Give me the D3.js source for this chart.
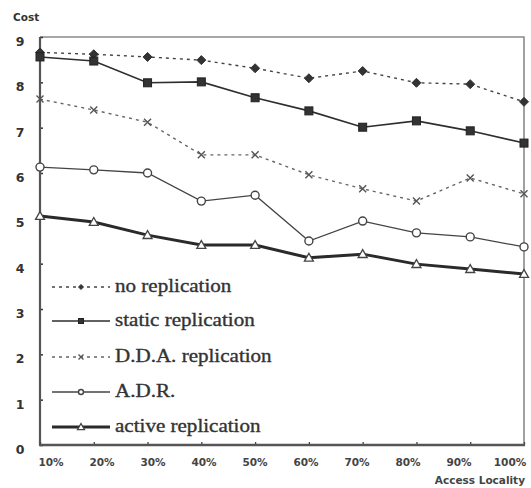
<!DOCTYPE html>
<html><head><meta charset="utf-8">
<script src="https://cdn.jsdelivr.net/npm/d3@7"></script>
<style>body{margin:0;background:#fff}svg{display:block}</style>
</head><body>
<svg id="c" width="531" height="488"></svg>
<script>
const categories = ["10%","20%","30%","40%","50%","60%","70%","80%","90%","100%"];
const yTicks = [0,1,2,3,4,5,6,7,8,9];
const noReplication     = [8.66,8.62,8.56,8.49,8.31,8.09,8.25,7.99,7.96,7.57];
const staticReplication = [8.56,8.47,7.99,8.01,7.66,7.37,7.01,7.15,6.93,6.66];
const ddaReplication    = [7.63,7.39,7.12,6.40,6.40,5.96,5.65,5.38,5.89,5.54];
const adr               = [6.13,6.07,6.00,5.38,5.51,4.50,4.94,4.68,4.59,4.37];
const activeReplication = [5.05,4.92,4.63,4.41,4.41,4.13,4.21,3.99,3.88,3.77];
const seriesNames = ["no replication","static replication","D.D.A. replication","A.D.R.","active replication"];

const series = [
  {name:seriesNames[0], values:noReplication, stroke:"#444", width:1.4, dash:"3,4", marker:"diamond"},
  {name:seriesNames[1], values:staticReplication, stroke:"#2e2e2e", width:1.6, dash:null, marker:"square"},
  {name:seriesNames[2], values:ddaReplication, stroke:"#666", width:1.4, dash:"3,4", marker:"cross"},
  {name:seriesNames[3], values:adr, stroke:"#444", width:1.3, dash:null, marker:"circle"},
  {name:seriesNames[4], values:activeReplication, stroke:"#2a2a2a", width:3, dash:null, marker:"triangle"}
];

const svg = d3.select("#c");
const L=40, R=524, T=37, B=445;
const x = d3.scalePoint().domain(categories).range([L,R]);
const xLab = d3.scalePoint().domain(categories).range([51,510]);
const y = d3.scaleLinear().domain([0,9]).range([B,T]);

svg.append("path").attr("d",`M${L},${T}H${R}V${B}`).attr("fill","none").attr("stroke","#8a8a8a").attr("stroke-width",1.6);

const ya = svg.append("g").attr("transform",`translate(${L},0)`)
  .call(d3.axisRight(y).tickValues(yTicks).tickSize(3).tickFormat(""));
ya.select(".domain").remove();
ya.selectAll(".tick line").attr("stroke","#333").attr("stroke-width",1.5);
svg.append("line").attr("x1",L).attr("x2",L).attr("y1",T).attr("y2",B).attr("stroke","#555").attr("stroke-width",2.2);
svg.append("g").selectAll("text").data(yTicks).join("text")
  .attr("x",20).attr("y",d=>y(d)+9).attr("text-anchor","middle")
  .attr("font-family","DejaVu Sans").attr("font-weight","bold").attr("font-size",12.5).attr("fill","#333")
  .text(d=>d);

const xa = svg.append("g").attr("transform",`translate(0,${B})`)
  .call(d3.axisTop(x).tickSize(3).tickFormat(""));
xa.select(".domain").remove();
xa.selectAll(".tick line").attr("stroke","#444").attr("stroke-width",1.3);
svg.append("line").attr("x1",L-1).attr("x2",R+1).attr("y1",B).attr("y2",B).attr("stroke","#555").attr("stroke-width",2.4);
svg.append("g").selectAll("text").data(categories).join("text")
  .attr("x",d=>xLab(d)).attr("y",466).attr("text-anchor","middle")
  .attr("font-family","DejaVu Sans").attr("font-weight","bold").attr("font-size",10.5).attr("fill","#444")
  .text(d=>d);

svg.append("text").attr("x",13).attr("y",21).attr("font-family","DejaVu Sans").attr("font-weight","bold")
  .attr("font-size",10.5).attr("fill","#333").text("Cost");
svg.append("text").attr("x",525).attr("y",484).attr("text-anchor","end").attr("font-family","DejaVu Sans").attr("font-weight","bold")
  .attr("font-size",10.5).attr("fill","#444").text("Access Locality");

function drawMarker(g, type, cx, cy, s){
  if(type==="diamond"){
    g.append("path").attr("d",`M${cx},${cy-s}L${cx+s},${cy}L${cx},${cy+s}L${cx-s},${cy}Z`).attr("fill","#333").attr("stroke","#333");
  } else if(type==="square"){
    g.append("rect").attr("x",cx-s).attr("y",cy-s).attr("width",2*s).attr("height",2*s).attr("fill","#333").attr("stroke","#222");
  } else if(type==="cross"){
    g.append("path").attr("d",`M${cx-s},${cy-s}L${cx+s},${cy+s}M${cx-s},${cy+s}L${cx+s},${cy-s}`).attr("stroke","#555").attr("stroke-width",1.4);
  } else if(type==="circle"){
    g.append("circle").attr("cx",cx).attr("cy",cy).attr("r",s).attr("fill","#fff").attr("stroke","#444").attr("stroke-width",1.4);
  } else if(type==="triangle"){
    g.append("path").attr("d",`M${cx},${cy-s}L${cx+s},${cy+s*0.75}L${cx-s},${cy+s*0.75}Z`).attr("fill","#fff").attr("stroke","#444").attr("stroke-width",1.3);
  }
}

const line = d3.line().x((d,i)=>x(categories[i])).y(d=>y(d));
const gl = svg.append("g");
series.forEach(s=>{
  gl.append("path").datum(s.values).attr("d",line).attr("fill","none")
    .attr("stroke",s.stroke).attr("stroke-width",s.width).attr("stroke-dasharray",s.dash);
});
const sizes = {diamond:4.5, square:4, cross:3.5, circle:4, triangle:4.5};
series.forEach(s=>{
  const g = svg.append("g");
  s.values.forEach((v,i)=>drawMarker(g, s.marker, x(categories[i]), y(v), sizes[s.marker]));
});

const legY = [287,321,357,392,427];
const lg = svg.append("g");
series.forEach((s,i)=>{
  const yy = legY[i];
  lg.append("line").attr("x1",52).attr("x2",110).attr("y1",yy).attr("y2",yy)
    .attr("stroke",s.stroke).attr("stroke-width",s.width).attr("stroke-dasharray",s.dash);
  drawMarker(lg, s.marker, 81, yy, s.marker==="triangle"?3.5:2.5);
  lg.append("text").attr("x",0).attr("y",0)
    .attr("transform",`translate(115,${yy+5}) scale(1.17,1)`)
    .attr("font-family","Liberation Serif").attr("font-size",18).attr("fill","#333")
    .attr("stroke","#333").attr("stroke-width",0.35)
    .text(s.name);
});
</script>
</body></html>
